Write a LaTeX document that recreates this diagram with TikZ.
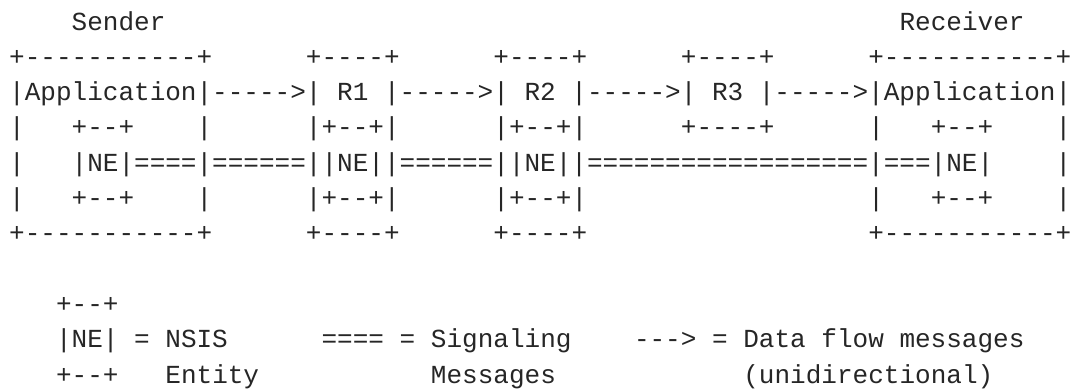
\documentclass[tikz,border=0pt]{standalone}
\usepackage{fontspec}
\setmonofont{Liberation Mono}
\frenchspacing

% character grid: column pitch 15.62pt, row pitch 35.33pt
\tikzset{
  ascii/.style={anchor=base west, inner sep=0pt, outer sep=0pt,
    font=\ttfamily\fontsize{26.03}{35.33}\selectfont, text=black!85},
}
% \gridtext{name}{column}{row}{text}
\newcommand\gridtext[4]{%
  \node[ascii] (#1) at ({9.2pt+#2*15.62pt}, {-30pt-#3*35.33pt}) {#4};}

\begin{document}
\begin{tikzpicture}
\useasboundingbox[fill=white] (0,0) rectangle (1071pt,-389pt);

% end points
\gridtext{sender}{4}{0}{Sender}
\gridtext{receiver}{57}{0}{Receiver}

% path through the routers
\gridtext{row1}{0}{1}{+-----------+~~~~~~+----+~~~~~~+----+~~~~~~+----+~~~~~~+-----------+}
\gridtext{row2}{0}{2}{|Application|----->|~R1~|----->|~R2~|----->|~R3~|----->|Application|}
\gridtext{row3}{0}{3}{|~~~+--+~~~~|~~~~~~|+--+|~~~~~~|+--+|~~~~~~+----+~~~~~~|~~~+--+~~~~|}
\gridtext{row4}{0}{4}{|~~~|NE|====|======||NE||======||NE||==================|===|NE|~~~~|}
\gridtext{row5}{0}{5}{|~~~+--+~~~~|~~~~~~|+--+|~~~~~~|+--+|~~~~~~~~~~~~~~~~~~|~~~+--+~~~~|}
\gridtext{row6}{0}{6}{+-----------+~~~~~~+----+~~~~~~+----+~~~~~~~~~~~~~~~~~~+-----------+}

% legend
\gridtext{neTop}{3}{8}{+--+}
\gridtext{neKey}{3}{9}{|NE|~=~NSIS}
\gridtext{sigKey}{20}{9}{====~=~Signaling}
\gridtext{dataKey}{40}{9}{--->~=~Data~flow~messages}
\gridtext{neBot}{3}{10}{+--+}
\gridtext{neText}{10}{10}{Entity}
\gridtext{sigText}{27}{10}{Messages}
\gridtext{dataText}{47}{10}{(unidirectional)}
\end{tikzpicture}
\end{document}
